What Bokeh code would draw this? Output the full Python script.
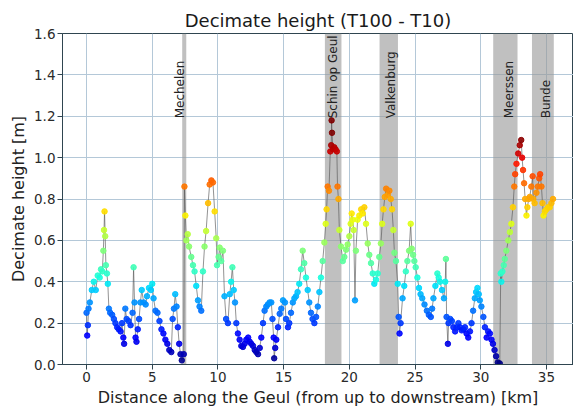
import numpy as np
from bokeh.plotting import figure
from bokeh.models import Range1d, FixedTicker, PrintfTickFormatter, LinearColorMapper, ColumnDataSource
from bokeh.core.properties import value
from bokeh.embed import file_html
from bokeh.resources import INLINE

# ---- data ----
dist_km = [
    0.00, 0.05, 0.10, 0.15, 0.25, 0.40, 0.55, 0.70, 0.85, 1.00, 1.10, 1.20, 1.28, 1.33, 1.37, 1.42, 1.47,
    1.55, 1.62, 1.70, 1.80, 1.95, 2.08, 2.20, 2.33, 2.45, 2.59, 2.70, 2.80, 2.86, 2.95, 3.05, 3.20, 3.35,
    3.50, 3.58, 3.65, 3.73, 3.80, 3.90, 4.00, 4.10, 4.20, 4.35, 4.50, 4.60, 4.75, 4.90, 5.00, 5.10, 5.25,
    5.40, 5.55, 5.70, 5.85, 6.00, 6.15, 6.30, 6.45, 6.55, 6.65, 6.75, 6.85, 6.95, 7.05, 7.15, 7.25, 7.40,
    7.45, 7.52, 7.60, 7.70, 7.80, 7.97, 8.10, 8.22, 8.35, 8.48, 8.60, 8.73, 8.86, 8.98, 9.10, 9.25, 9.37,
    9.50, 9.62, 9.75, 9.87, 9.93, 10.05, 10.13, 10.25, 10.38, 10.50, 10.62, 10.76, 10.90, 11.00, 11.10,
    11.20, 11.30, 11.40, 11.52, 11.65, 11.78, 11.90, 12.03, 12.16, 12.30, 12.42, 12.54, 12.67, 12.80,
    12.92, 13.05, 13.18, 13.30, 13.43, 13.55, 13.68, 13.80, 13.93, 14.06, 14.15, 14.24, 14.28, 14.36,
    14.44, 14.57, 14.70, 14.82, 14.95, 15.10, 15.18, 15.33, 15.43, 15.56, 15.70, 15.82, 15.94, 16.06,
    16.19, 16.32, 16.45, 16.57, 16.70, 16.83, 16.95, 17.08, 17.20, 17.34, 17.47, 17.60, 17.72, 17.84,
    17.97, 18.10, 18.20, 18.27, 18.35, 18.45, 18.55, 18.62, 18.65, 18.68, 18.75, 18.85, 18.95, 19.05,
    19.10, 19.17, 19.24, 19.37, 19.50, 19.62, 19.75, 19.87, 20.00, 20.10, 20.18, 20.25, 20.33, 20.43,
    20.50, 20.63, 20.76, 20.90, 21.02, 21.14, 21.27, 21.40, 21.52, 21.65, 21.78, 21.90, 22.03, 22.16,
    22.28, 22.40, 22.50, 22.60, 22.70, 22.80, 22.92, 23.05, 23.15, 23.25, 23.35, 23.43, 23.55, 23.68,
    23.75, 23.82, 23.90, 24.05, 24.18, 24.30, 24.42, 24.55, 24.67, 24.75, 24.85, 24.95, 25.05, 25.18,
    25.30, 25.42, 25.55, 25.72, 25.90, 26.05, 26.20, 26.30, 26.40, 26.55, 26.70, 26.80, 26.90, 27.05,
    27.20, 27.30, 27.35, 27.40, 27.50, 27.55, 27.68, 27.80, 27.92, 28.05, 28.18, 28.30, 28.42, 28.55,
    28.68, 28.80, 28.92, 29.05, 29.18, 29.30, 29.42, 29.55, 29.65, 29.75, 29.85, 29.93, 30.05, 30.20,
    30.32, 30.45, 30.57, 30.70, 30.82, 30.93, 31.05, 31.17, 31.30, 31.45, 31.52, 31.57, 31.65, 31.75,
    31.83, 31.95, 32.10, 32.22, 32.33, 32.45, 32.55, 32.62, 32.72, 32.85, 32.97, 33.08, 33.15, 33.22,
    33.30, 33.38, 33.48, 33.55, 33.65, 33.73, 33.85, 33.95, 34.00, 34.10, 34.24, 34.35, 34.45, 34.52,
    34.62, 34.70, 34.78, 34.88, 35.00, 35.12, 35.25, 35.38, 35.50,
]
height_m = [
    0.25, 0.14, 0.19, 0.27, 0.30, 0.36, 0.40, 0.36, 0.43, 0.42, 0.46, 0.45, 0.55, 0.65, 0.74, 0.62, 0.48,
    0.44, 0.39, 0.27, 0.25, 0.24, 0.22, 0.20, 0.18, 0.17, 0.16, 0.20, 0.13, 0.10, 0.27, 0.22, 0.21, 0.19,
    0.25, 0.47, 0.30, 0.13, 0.11, 0.17, 0.22, 0.30, 0.36, 0.30, 0.29, 0.33, 0.37, 0.36, 0.39, 0.32, 0.26,
    0.25, 0.21, 0.17, 0.15, 0.12, 0.10, 0.07, 0.06, 0.22, 0.27, 0.34, 0.28, 0.18, 0.10, 0.05, 0.02, 0.05,
    0.86, 0.72, 0.60, 0.63, 0.57, 0.52, 0.48, 0.45, 0.38, 0.31, 0.28, 0.26, 0.45, 0.57, 0.645, 0.78, 0.87,
    0.89, 0.88, 0.74, 0.61, 0.48, 0.52, 0.565, 0.50, 0.55, 0.33, 0.22, 0.20, 0.34, 0.40, 0.47,
    0.36, 0.30, 0.20, 0.15, 0.12, 0.09, 0.085, 0.10, 0.12, 0.13, 0.11, 0.10, 0.09, 0.07,
    0.06, 0.05, 0.08, 0.13, 0.20, 0.26, 0.28, 0.29, 0.30, 0.30, 0.22, 0.13, 0.03, 0.08,
    0.12, 0.18, 0.245, 0.27, 0.31, 0.30, 0.22, 0.18, 0.20, 0.25, 0.30, 0.32, 0.33, 0.35,
    0.39, 0.46, 0.55, 0.49, 0.42, 0.36, 0.30, 0.25, 0.22, 0.20, 0.23, 0.28, 0.35, 0.42,
    0.50, 0.59, 0.68, 0.75, 0.86, 0.84, 1.03, 1.06, 1.18, 1.12, 1.04, 1.05, 1.04, 1.03,
    0.86, 0.80, 0.65, 0.57, 0.50, 0.52, 0.555, 0.58, 0.62, 0.68, 0.73, 0.70, 0.65, 0.31,
    0.55, 0.70, 0.72, 0.75, 0.73, 0.76, 0.68, 0.585, 0.53, 0.49, 0.44, 0.39, 0.41, 0.44,
    0.52, 0.585, 0.68, 0.75, 0.81, 0.85, 0.82, 0.84, 0.80, 0.75, 0.65, 0.54, 0.50, 0.39,
    0.23, 0.15, 0.20, 0.32, 0.38, 0.45, 0.50, 0.55, 0.68, 0.56, 0.53, 0.50, 0.47, 0.42,
    0.37, 0.34, 0.32, 0.29, 0.26, 0.24, 0.23, 0.27, 0.32, 0.38, 0.44, 0.42, 0.40, 0.36,
    0.32, 0.40, 0.51, 0.23, 0.10, 0.20, 0.22, 0.21, 0.18, 0.16, 0.18, 0.20, 0.18, 0.165,
    0.17, 0.18, 0.15, 0.13, 0.16, 0.20, 0.26, 0.32, 0.35, 0.37, 0.34, 0.31, 0.28, 0.23,
    0.18, 0.13, 0.16, 0.15, 0.12, 0.10, 0.07, 0.04, 0.01, 0.005, 0.44, 0.40, 0.45, 0.48,
    0.51, 0.55, 0.60, 0.64, 0.68, 0.76, 0.86, 0.92, 0.97, 1.02, 1.06, 1.085, 1.00, 0.94,
    0.876, 0.80, 0.72, 0.76, 0.80, 0.81, 0.86, 0.91, 0.80, 0.78, 0.83, 0.86, 0.90, 0.92,
    0.86, 0.78, 0.72, 0.74, 0.75, 0.76, 0.76, 0.78, 0.80,
]

band_names = ["Mechelen", "Schin op Geul", "Valkenburg", "Meerssen", "Bunde"]
band_start = [7.28, 18.14, 22.3, 30.95, 33.9]
band_end = [7.59, 19.4, 23.7, 32.8, 35.56]
band_label_x = [7.13, 18.75, 23.2, 32.17, 35.0]
band_label_y = [1.19, 1.19, 1.19, 1.19, 1.19]

x_ticks = [0, 5, 10, 15, 20, 25, 30, 35]
y_ticks = [0.0, 0.2, 0.4, 0.6, 0.8, 1.0, 1.2, 1.4, 1.6]

# ---- jet palette ----
def jet_palette(n=256):
    t = np.linspace(0, 1, n)
    r = np.interp(t, [0, 0.35, 0.66, 0.89, 1], [0, 0, 1, 1, 0.5])
    g = np.interp(t, [0, 0.125, 0.375, 0.64, 0.91, 1], [0, 0, 1, 1, 0, 0])
    b = np.interp(t, [0, 0.11, 0.34, 0.65, 1], [0.5, 1, 1, 0, 0])
    return ["#%02x%02x%02x" % (int(round(rr * 255)), int(round(gg * 255)), int(round(bb * 255)))
            for rr, gg, bb in zip(r, g, b)]

mapper = LinearColorMapper(palette=jet_palette(), low=0.0, high=1.1)

FONT = "DejaVu Sans"
AX = "#2f4550"

p = figure(width=573, height=409, output_backend="svg", toolbar_location=None,
           x_range=Range1d(-1.83, 37.06), y_range=Range1d(0, 1.6),
           min_border_left=62, min_border_right=0, min_border_top=33, min_border_bottom=44,
           title="Decimate height (T100 - T10)")
p.background_fill_color = "white"
p.border_fill_color = "white"
p.outline_line_color = AX
p.outline_line_width = 1

p.title.text_font = FONT
p.title.text_font_size = "18px"
p.title.text_font_style = "normal"
p.title.text_color = "#1a1a1a"
p.title.align = "center"
p.title.standoff = 5

p.xaxis.ticker = FixedTicker(ticks=x_ticks)
p.yaxis.ticker = FixedTicker(ticks=y_ticks)
p.yaxis.formatter = PrintfTickFormatter(format="%.1f")
p.xaxis.axis_label = "Distance along the Geul (from up to downstream) [km]"
p.yaxis.axis_label = "Decimate height [m]"
for ax in (p.xaxis, p.yaxis):
    ax.axis_label_text_font = FONT
    ax.axis_label_text_font_size = "16px"
    ax.axis_label_text_font_style = "normal"
    ax.axis_label_text_color = "#222222"
    ax.major_label_text_font = FONT
    ax.major_label_text_font_size = "13.5px"
    ax.major_label_text_color = "#2a2a2a"
    ax.axis_line_color = AX
    ax.major_tick_line_color = AX
    ax.major_tick_out = 5
    ax.major_tick_in = 0
    ax.minor_tick_line_color = None
    ax.major_label_standoff = 2
    ax.axis_label_standoff = 3

p.xgrid.grid_line_color = "#b4c8d8"
p.ygrid.grid_line_color = "#b4c8d8"
p.xgrid.grid_line_width = 1
p.ygrid.grid_line_width = 1

# bands
p.quad(left=band_start, right=band_end, bottom=0, top=1.6,
       fill_color="#9a9a9a", fill_alpha=0.62, line_color=None)

# data
src = ColumnDataSource(dict(x=dist_km, y=height_m))
p.line("x", "y", source=src, line_color="#555555", line_width=0.8, line_alpha=0.8)
p.scatter("x", "y", source=src, size=5.5, marker="circle",
          fill_color={"field": "y", "transform": mapper},
          line_color={"field": "y", "transform": mapper}, line_alpha=0.9, fill_alpha=0.9)

# band labels
p.text(x=band_label_x, y=band_label_y, text=band_names, angle=np.pi / 2,
       text_align="left", text_baseline="middle", text_font=value(FONT),
       text_font_size="12px", text_color="#222222")

open("out.html", "w").write(file_html(p, INLINE))
